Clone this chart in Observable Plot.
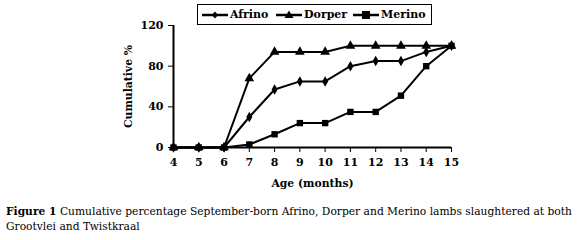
<!DOCTYPE html>
<html><head><meta charset="utf-8">
<script src="https://cdn.jsdelivr.net/npm/d3@7"></script>
<script src="https://cdn.jsdelivr.net/npm/@observablehq/plot@0.6"></script>
<style>
body{margin:0;background:#fff;font-family:"DejaVu Serif";}
#wrap{position:relative;width:580px;height:240px;}
#legend{position:absolute;left:197px;top:4px;width:235px;height:21px;border:1px solid #000;box-sizing:border-box;font-weight:bold;font-size:11px;}
#legend .it{position:absolute;top:0;height:19px;display:flex;align-items:center;}
#legend svg{margin-right:2px;}
#cap{position:absolute;left:6px;top:204px;width:574px;font-size:10.7px;line-height:15px;color:#000;white-space:nowrap;}
</style></head>
<body><div id="wrap"><div id="chart"></div><div id="legend"></div>
<div id="cap"><b>Figure 1</b> Cumulative percentage September-born Afrino, Dorper and Merino lambs slaughtered at both<br>Grootvlei and Twistkraal</div></div>
<script>
const ages = [4,5,6,7,8,9,10,11,12,13,14,15];
const afrino = [0,0,0,30,57,65,65,80,85,85,94,100];
const dorper = [0,0,0,68,94,94,94,100,100,100,100,100];
const merino = [0,0,0,3,13,24,24,35,35,51,80,100];
const seriesNames = ["Afrino","Dorper","Merino"];
const yTicks = [0,40,80,120];
const symbols = ["diamond","triangle","square"];

const seriesVals = [afrino, dorper, merino];
const data = [];
seriesNames.forEach((s,i)=>ages.forEach((a,j)=>data.push({series:s, age:a, value:seriesVals[i][j]})));

const serif = "DejaVu Serif";
const plot = Plot.plot({
  width:580, height:190,
  marginLeft:173, marginRight:129, marginTop:25, marginBottom:43,
  style:{fontFamily:serif, fontWeight:"bold", fontSize:"11px", color:"#000", background:"#fff"},
  x:{domain:[4,15], ticks:ages},
  y:{domain:[0,120], ticks:yTicks},
  symbol:{domain:seriesNames, range:symbols},
  marks:[
    Plot.axisX({ticks:ages, tickSize:5, tickPadding:6, tickFormat:d=>d, label:null, fontWeight:"bold", fontFamily:serif, fontSize:11}),
    Plot.axisY({ticks:yTicks, tickSize:5, tickPadding:5, label:null, fontWeight:"bold", fontFamily:serif, fontSize:11}),
    Plot.ruleY([0],{stroke:"#000", strokeWidth:2}),
    Plot.ruleX([4],{stroke:"#000", strokeWidth:2}),
    Plot.line(data,{x:"age", y:"value", z:"series", stroke:"#000", strokeWidth:2}),
    Plot.dot(data.filter(d=>d.series==="Afrino"),{x:"age", y:"value", symbol:"series", fill:"#000", r:3.2}),
    Plot.dot(data.filter(d=>d.series==="Dorper"),{x:"age", y:"value", symbol:"series", fill:"#000", r:3.6}),
    Plot.dot(data.filter(d=>d.series==="Merino"),{x:"age", y:"value", symbol:"series", fill:"#000", r:3.6}),
    Plot.text(["Age (months)"],{frameAnchor:"bottom", dy:39, text:d=>d, fontWeight:"bold", fontSize:10.8, fontFamily:serif}),
    Plot.text(["Cumulative %"],{frameAnchor:"left", dx:-45, rotate:-90, textAnchor:"middle", text:d=>d, fontWeight:"bold", fontSize:10.8, fontFamily:serif})
  ]
});
document.getElementById("chart").appendChild(plot);

const leg = document.getElementById("legend");
const shapes = {
  diamond:'<path d="M13,6.5 L16,10 L13,13.5 L10,10Z" fill="#000"/>',
  triangle:'<path d="M13,5.5 L17.5,13 L8.5,13Z" fill="#000"/>',
  square:'<rect x="9" y="6" width="8" height="8" fill="#000"/>'
};
const legLeft = [4, 78, 155];
seriesNames.forEach((s,i)=>{
  const d = document.createElement("div"); d.className="it";
  d.style.left = legLeft[i] + "px";
  d.innerHTML = `<svg width="26" height="20"><line x1="0" x2="26" y1="10" y2="10" stroke="#000" stroke-width="2.5"/>${shapes[symbols[i]]}</svg><span>${s}</span>`;
  leg.appendChild(d);
});
</script></body></html>
